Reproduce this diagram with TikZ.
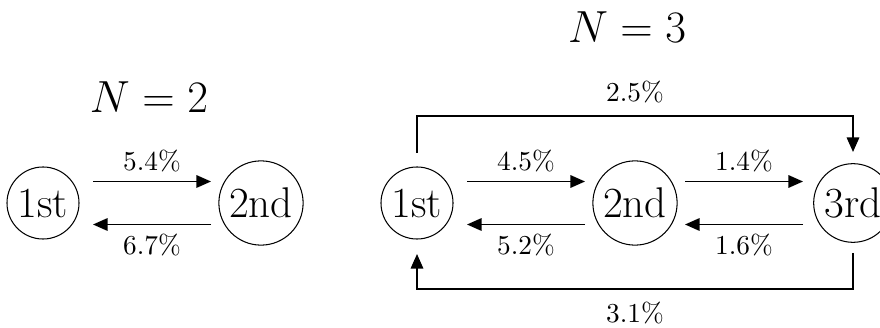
\documentclass[tikz,border=0pt]{standalone}
\usepackage{amsmath}
\usepackage{tikz}
\usetikzlibrary{arrows.meta,calc}

\begin{document}
\begin{tikzpicture}[
  x=0.384pt, y=0.384pt,
  every node/.style={font=\fontsize{10.5}{12.6}\selectfont},
  state/.style={circle, draw, line width=0.4pt, inner sep=2pt, font=\fontsize{16.5}{19.8}\selectfont},
  heading/.style={font=\fontsize{16.5}{19.8}\selectfont},
  arr/.style={-{Triangle[length=5.6pt,width=4.8pt]}, line width=0.65pt},
  pair/.style={arr, shorten <=19.2pt, shorten >=19.2pt},
]
% Canvas in reference pixels (880 x 327), states 218 apart on one row.
\useasboundingbox (0,0) rectangle (880,327);
\def\ry{124}
\def\dy{21.5}
% N = 2
\node[heading] (headTwo) at (149,230) {$N = 2$};
\node[state] (s1) at (43,\ry) {1st};
\node[state] (s2) at (261,\ry) {2nd};
\draw[pair] ($(s1)+(0,\dy)$) -- node[above] {5.4\%} ($(s2)+(0,\dy)$);
\draw[pair] ($(s2)+(0,-\dy)$) -- node[below] {6.7\%} ($(s1)+(0,-\dy)$);

% N = 3
\node[heading] (headThree) at (627,300) {$N = 3$};
\node[state] (t1) at (417,\ry) {1st};
\node[state] (t2) at (635,\ry) {2nd};
\node[state] (t3) at (853,\ry) {3rd};
\draw[pair] ($(t1)+(0,\dy)$) -- node[above] {4.5\%} ($(t2)+(0,\dy)$);
\draw[pair] ($(t2)+(0,-\dy)$) -- node[below] {5.2\%} ($(t1)+(0,-\dy)$);
\draw[pair] ($(t2)+(0,\dy)$) -- node[above] {1.4\%} ($(t3)+(0,\dy)$);
\draw[pair] ($(t3)+(0,-\dy)$) -- node[below] {1.6\%} ($(t2)+(0,-\dy)$);
% skip links round the outside
\draw[arr] ($(t1)+(0,50)$) -- ++(0,37) -| node[pos=0.25, above=1.2pt] {2.5\%} ($(t3)+(0,51)$);
\draw[arr] ($(t3)+(0,-50)$) -- ++(0,-36) -| node[pos=0.25, below=1.2pt] {3.1\%} ($(t1)+(0,-51)$);
\end{tikzpicture}
\end{document}
